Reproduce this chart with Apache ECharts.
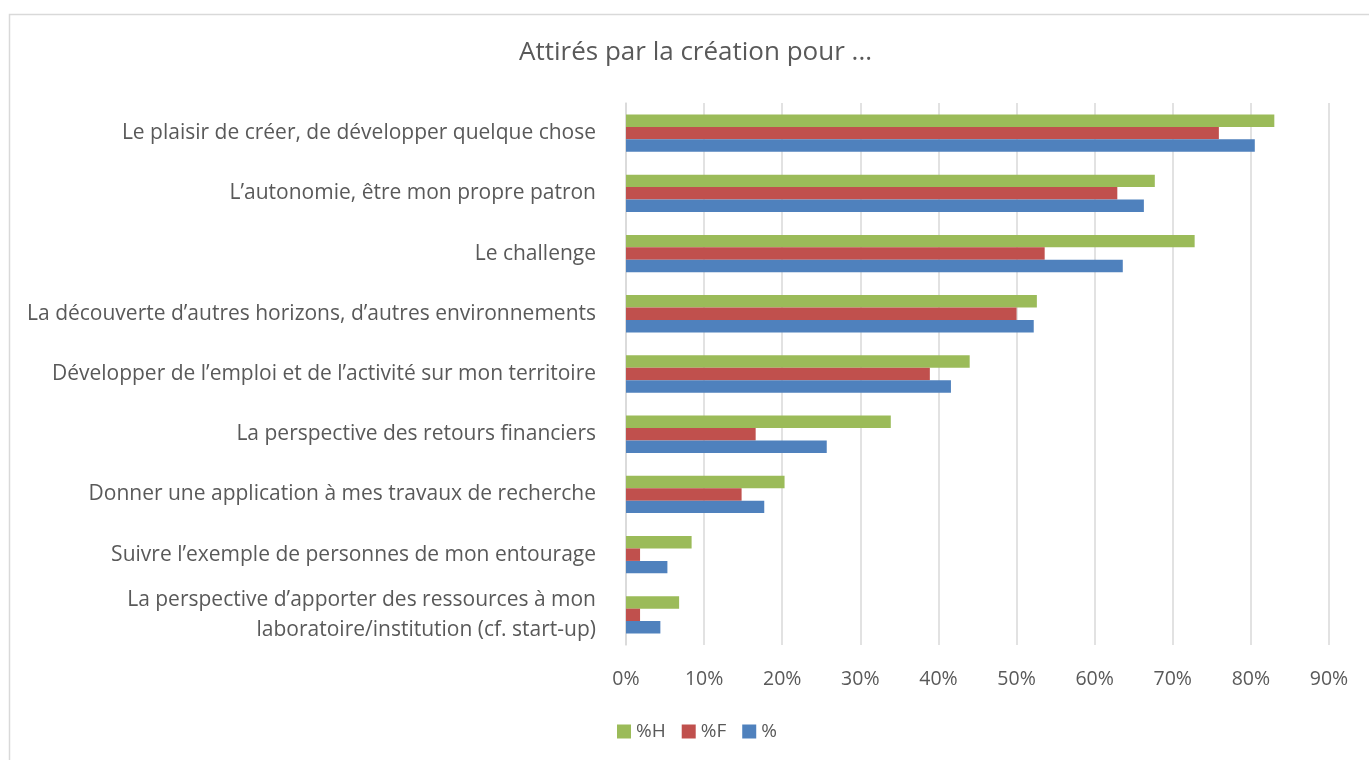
<!DOCTYPE html>
<html><head><meta charset="utf-8">
<script src="https://cdn.jsdelivr.net/npm/echarts@6/dist/echarts.min.js"></script>
<style>html,body{margin:0;padding:0;background:#fff}#c{width:1369px;height:760px}</style>
</head><body><div id="c"></div>
<script>
const categories = [
  "Le plaisir de créer, de développer quelque chose",
  "L’autonomie, être mon propre patron",
  "Le challenge",
  "La découverte d’autres horizons, d’autres environnements",
  "Développer de l’emploi et de l’activité sur mon territoire",
  "La perspective des retours financiers",
  "Donner une application à mes travaux de recherche",
  "Suivre l’exemple de personnes de mon entourage",
  "La perspective d’apporter des ressources à mon\nlaboratoire/institution (cf. start-up)"
];
const valuesH = [83.0, 67.7, 72.8, 52.6, 44.0, 33.9, 20.3, 8.4, 6.8];
const valuesF = [75.9, 62.9, 53.6, 50.0, 38.9, 16.6, 14.8, 1.8, 1.8];
const valuesAll = [80.5, 66.3, 63.6, 52.2, 41.6, 25.7, 17.7, 5.3, 4.4];
const seriesNames = ["%H", "%F", "%"];

const font = "Open Sans";
const chart = echarts.init(document.getElementById('c'));
chart.setOption({
  animation: false,
  textStyle: { fontFamily: font },
  title: { text: "Attirés par la création pour ...", left: 519, top: 40, padding: 0,
    textStyle: { fontFamily: font, fontSize: 26, fontWeight: 'normal', color: '#595959' } },
  graphic: [{ type: 'rect', shape: { x: 9.5, y: 14.5, width: 1380, height: 780 },
    style: { fill: 'none', stroke: '#d9d9d9', lineWidth: 1.5 }, silent: true }],
  legend: { top: 722, left: 617, itemWidth: 14, itemHeight: 14, itemGap: 16, padding: 0,
    icon: 'rect', data: seriesNames,
    textStyle: { fontFamily: font, fontSize: 19, color: '#595959', padding: [0, 0, 0, 0] } },
  grid: { left: 626, right: 40, top: 103, bottom: 115, containLabel: false },
  xAxis: { type: 'value', min: 0, max: 90, interval: 10,
    axisLabel: { formatter: '{value}%', fontSize: 19.5, color: '#595959', margin: 24, fontFamily: font },
    splitLine: { lineStyle: { color: '#d9d9d9', width: 1.5 } },
    axisLine: { show: false }, axisTick: { show: false } },
  yAxis: { type: 'category', data: categories, inverse: true,
    axisLabel: { fontSize: 21, color: '#595959', margin: 30, lineHeight: 30, align: 'right', fontFamily: font },
    axisLine: { show: true, lineStyle: { color: '#d9d9d9', width: 1.5 } },
    axisTick: { show: false } },
  series: [
    { name: seriesNames[0], type: 'bar', data: valuesH, itemStyle: { color: '#9bbb59' }, barGap: '0%', barCategoryGap: '38%' },
    { name: seriesNames[1], type: 'bar', data: valuesF, itemStyle: { color: '#c0504d' }, barGap: '0%', barCategoryGap: '38%' },
    { name: seriesNames[2], type: 'bar', data: valuesAll, itemStyle: { color: '#4f81bd' }, barGap: '0%', barCategoryGap: '38%' }
  ]
});
</script></body></html>
